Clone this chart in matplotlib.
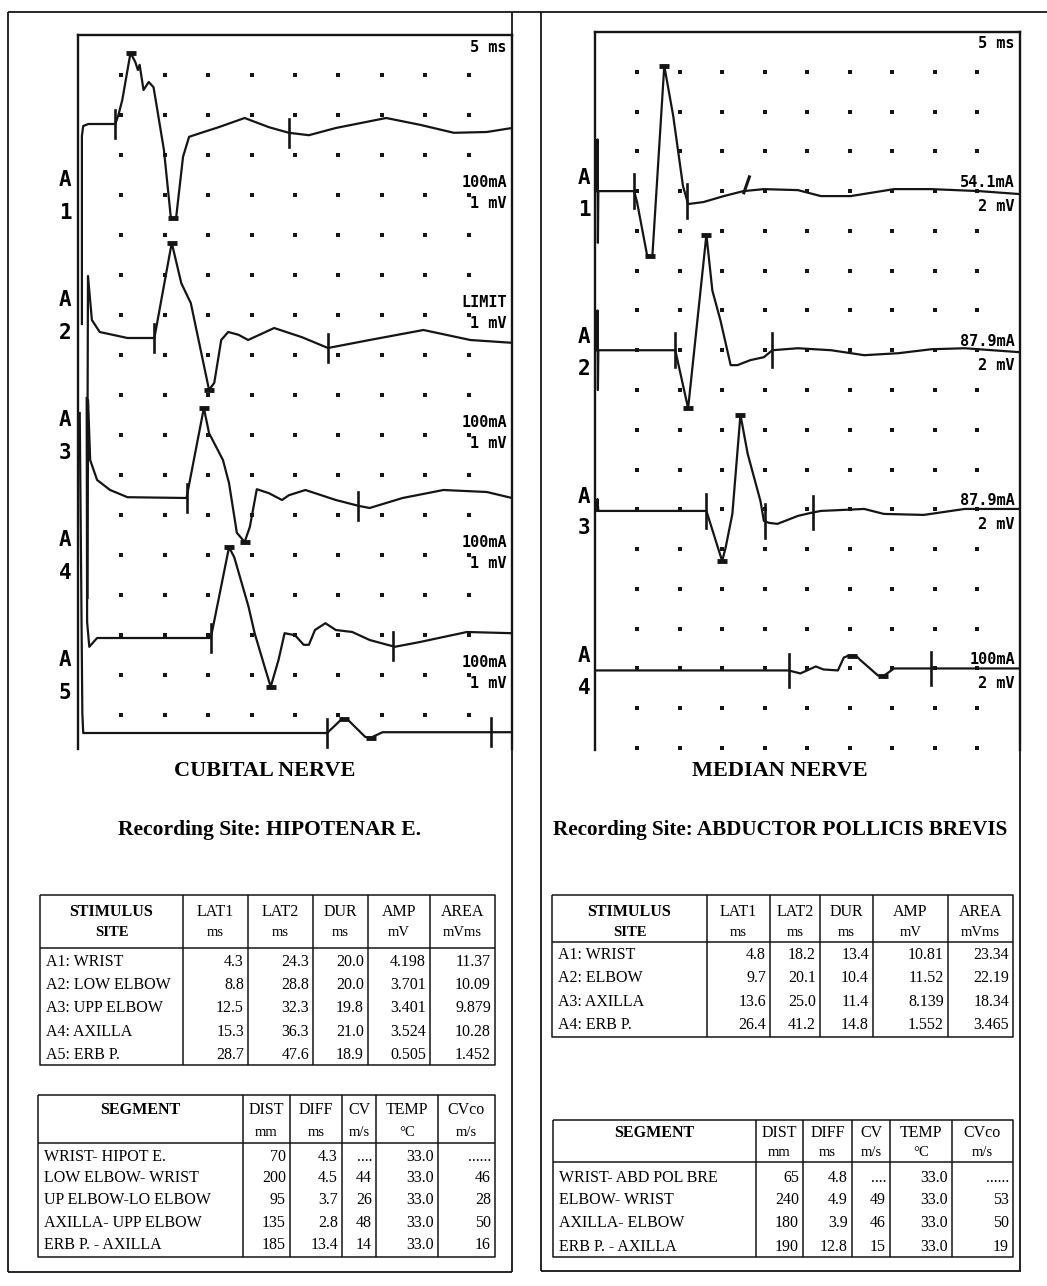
import numpy as np
import matplotlib.pyplot as plt

W, H = 1047, 1286
MONO = "DejaVu Sans Mono"
SERIF = "Liberation Serif"
INK = "#151515"

# ---------------- cubital nerve (5 ms/div, 1 mV/div) ----------------
cub_a1_t = [0.45, 0.45, 0.6, 1.2, 4.3, 4.65, 5.1, 6.05, 6.6, 6.9, 7.1, 7.55, 8.15, 8.7, 8.95,
            9.9, 10.7, 11.3, 12.1, 12.8, 14.2, 16.2, 19.2, 22.0, 24.3, 26.6, 29.7, 35.5,
            39.4, 43.3, 47.1, 50.0]
cub_a1_v = [-5.0, -0.3, -0.05, 0.0, 0.0, 0.22, 0.6, 1.78, 1.55, 1.35, 1.48, 0.85, 1.05, 0.92, 0.6,
            -0.65, -2.35, -2.35, -0.82, -0.32, -0.22, -0.08, 0.15, -0.08, -0.22, -0.28, -0.1, 0.15,
            -0.02, -0.22, -0.2, -0.1]
cub_a2_t = [1.1, 1.15, 1.6, 2.5, 5.7, 8.8, 10.8, 11.9, 13.0, 14.2, 15.1, 15.7, 16.5, 17.3, 18.5,
            19.6, 22.6, 25.8, 28.8, 33.6, 39.8, 45.2, 50.0]
cub_a2_v = [-2.0, 1.55, 0.45, 0.15, 0.0, 0.0, 2.38, 1.37, 0.87, -0.37, -1.3, -1.12, -0.05, 0.15, 0.08,
            -0.05, 0.25, 0.02, -0.25, -0.05, 0.2, -0.05, -0.12]
cub_a3_t = [1.1, 1.16, 1.4, 2.2, 3.7, 5.7, 12.5, 14.5, 15.1, 16.7, 17.4, 18.3, 19.2, 19.8, 20.6,
            22.0, 23.5, 24.3, 26.2, 29.7, 32.4, 33.6, 37.4, 42.1, 47.1, 50.0]
cub_a3_v = [-2.5, 2.45, 0.95, 0.45, 0.2, 0.02, 0.0, 2.25, 1.62, 0.95, 0.37, -0.87, -1.1, -0.72, 0.22,
            0.12, -0.05, 0.07, 0.2, -0.05, -0.2, -0.25, 0.0, 0.2, 0.15, 0.0]
cub_a4_t = [1.0, 1.05, 1.3, 2.2, 15.3, 17.4, 18.0, 19.65, 20.35, 21.5, 22.2, 23.1, 23.8, 25.0, 26.0,
            26.6, 27.3, 28.5, 29.7, 31.6, 33.6, 36.5, 39.4, 44.8, 50.0]
cub_a4_v = [6.0, 0.4, -0.22, 0.0, 0.0, 2.27, 2.02, 0.78, 0.12, -0.72, -1.22, -0.55, 0.12, 0.07, -0.17,
            -0.17, 0.2, 0.37, 0.2, 0.15, -0.05, -0.22, -0.1, 0.15, 0.12]
cub_a5_t = [0.2, 0.5, 0.6, 28.7, 30.4, 31.0, 33.1, 33.7, 35.1, 41.3, 50.0]
cub_a5_v = [8.0, 0.5, 0.0, 0.0, 0.35, 0.35, -0.1, -0.12, 0.02, 0.02, 0.02]

cub_stim = ["100mA", "LIMIT", "100mA", "100mA", "100mA"]
cub_gain = ["1 mV", "1 mV", "1 mV", "1 mV", "1 mV"]

cub_sites = ["A1: WRIST", "A2: LOW ELBOW", "A3: UPP ELBOW", "A4: AXILLA", "A5: ERB P."]
cub_lat1 = [4.3, 8.8, 12.5, 15.3, 28.7]
cub_lat2 = [24.3, 28.8, 32.3, 36.3, 47.6]
cub_dur = [20.0, 20.0, 19.8, 21.0, 18.9]
cub_amp = [4.198, 3.701, 3.401, 3.524, 0.505]
cub_area = [11.37, 10.09, 9.879, 10.28, 1.452]

cub_seg = ["WRIST- HIPOT E.", "LOW ELBOW- WRIST", "UP ELBOW-LO ELBOW", "AXILLA- UPP ELBOW",
           "ERB P. - AXILLA"]
cub_dist = [70, 200, 95, 135, 185]
cub_diff = [4.3, 4.5, 3.7, 2.8, 13.4]
cub_cv = [None, 44, 26, 48, 14]
cub_temp = [33.0, 33.0, 33.0, 33.0, 33.0]
cub_cvco = [None, 46, 28, 50, 16]

# ---------------- median nerve (5 ms/div, 2 mV/div) ----------------
med_a1_t = [0.3, 0.35, 0.4, 0.45, 4.66, 5.0, 6.2, 6.8, 8.2, 9.25, 10.4, 11.0, 12.8, 15.2, 17.5,
            19.9, 23.9, 26.6, 30.1, 35.2, 39.6, 45.2, 50.0]
med_a1_v = [0.0, 2.6, -2.6, 0.0, 0.0, -0.55, -3.27, -3.27, 6.3, 3.78, 0.25, -0.65, -0.55, -0.25, 0.0,
            0.1, 0.05, -0.25, -0.25, 0.1, 0.1, 0.0, -0.15]
med_a2_t = [0.3, 0.35, 0.4, 0.45, 9.5, 9.7, 11.0, 13.15, 13.85, 14.8, 16.0, 16.8, 18.3, 19.9, 20.9,
            23.9, 27.8, 31.7, 35.7, 39.6, 43.5, 50.0]
med_a2_v = [0.0, 2.0, -2.0, 0.0, 0.0, -0.4, -2.92, 5.8, 3.0, 1.5, -0.75, -0.75, -0.5, -0.35, 0.0,
            0.1, 0.0, -0.25, -0.15, 0.05, 0.1, -0.1]
med_a3_t = [0.3, 0.35, 0.45, 13.15, 15.0, 15.4, 16.2, 17.15, 18.0, 19.5, 19.9, 20.5, 21.5, 23.9, 25.4,
            26.6, 31.7, 34.0, 38.7, 43.5, 50.0]
med_a3_v = [0.0, 0.6, 0.0, 0.0, -2.52, -1.86, -0.15, 4.84, 2.87, 0.5, -0.5, -0.6, -0.65, -0.25, -0.1,
            0.0, 0.1, -0.15, -0.2, 0.1, 0.1]
med_a4_t = [0.3, 22.8, 24.2, 26.0, 26.9, 28.6, 29.3, 29.9, 30.7, 31.3, 33.3, 33.9, 35.2, 39.6, 50.0]
med_a4_v = [0.0, 0.0, -0.15, 0.2, 0.05, 0.0, 0.65, 0.75, 0.75, 0.5, -0.25, -0.3, 0.1, 0.1, 0.1]
med_marks = [[4.66, 10.9], [9.5, 20.9], [13.15, 20.0, 25.7], [22.8, 39.6]]
med_slash = 17.9

med_stim = ["54.1mA", "87.9mA", "87.9mA", "100mA"]
med_gain = ["2 mV", "2 mV", "2 mV", "2 mV"]

med_sites = ["A1: WRIST", "A2: ELBOW", "A3: AXILLA", "A4: ERB P."]
med_lat1 = [4.8, 9.7, 13.6, 26.4]
med_lat2 = [18.2, 20.1, 25.0, 41.2]
med_dur = [13.4, 10.4, 11.4, 14.8]
med_amp = [10.81, 11.52, 8.139, 1.552]
med_area = [23.34, 22.19, 18.34, 3.465]

med_seg = ["WRIST- ABD POL BRE", "ELBOW- WRIST", "AXILLA- ELBOW", "ERB P. - AXILLA"]
med_dist = [65, 240, 180, 190]
med_diff = [4.8, 4.9, 3.9, 12.8]
med_cv = [None, 49, 46, 15]
med_temp = [33.0, 33.0, 33.0, 33.0]
med_cvco = [None, 53, 50, 19]

fig = plt.figure(figsize=(W / 100, H / 100), dpi=100)
bg = fig.add_axes([0, 0, 1, 1])
bg.set_xlim(0, W)
bg.set_ylim(H, 0)
bg.axis("off")


def px_axes(x0, y0, x1, y1):
    ax = fig.add_axes([x0 / W, 1 - y1 / H, (x1 - x0) / W, (y1 - y0) / H])
    ax.set_facecolor("none")
    return ax


def line(xs, ys, lw=1.3):
    bg.plot(xs, ys, color=INK, lw=lw, solid_capstyle="butt")


def draw_panel(ax, traces, bases, mv_div, marks, ydiv, stim, gain, lab_rows, name_rows, name_x, tick_len):
    ax.set_xlim(0, 50)
    ax.set_ylim(ydiv, 0)
    ax.set_xticks([])
    ax.set_yticks([])
    ax.spines["bottom"].set_visible(False)
    for s in ("top", "left", "right"):
        ax.spines[s].set_linewidth(1.7)
        ax.spines[s].set_color(INK)
    gx, gy = np.meshgrid(np.arange(5, 50, 5), np.arange(1, int(ydiv) + 1))
    ax.plot(gx.ravel(), gy.ravel(), "s", ms=2.2, mew=0, color=INK, ls="none")
    for (t, v), base, mk in zip(traces, bases, marks):
        t = np.asarray(t, float)
        v = np.asarray(v, float)
        ax.plot(t, base - v / mv_div, color=INK, lw=1.6)
        for tm in mk:
            yc = base - np.interp(tm, t, v) / mv_div
            ax.plot([tm, tm], [yc - tick_len / 2, yc + tick_len / 2], color=INK, lw=1.9)
        after = t >= mk[0]
        for ext in (v[after].max(), v[after].min()):
            sel = after & (v == ext)
            ax.plot(t[sel].mean(), base - ext / mv_div, marker="_", ms=7, mew=3.5, color=INK)
    ax.text(49.4, 0.3, "5 ms", ha="right", va="center", family=MONO, weight="bold", size=11)
    for k, (s, g) in enumerate(zip(stim, gain)):
        ax.text(49.4, lab_rows[k][0], s, ha="right", va="center", family=MONO, weight="bold", size=11)
        ax.text(49.4, lab_rows[k][1], g, ha="right", va="center", family=MONO, weight="bold", size=11)
        ax.text(name_x, name_rows[k][0], "A", ha="center", va="center", family=MONO,
                weight="bold", size=15, clip_on=False)
        ax.text(name_x, name_rows[k][1], str(k + 1), ha="center", va="center", family=MONO,
                weight="bold", size=15, clip_on=False)


def draw_table(xs, y_top, y_sep, y_bot, heads, head_y, rows_y, columns):
    line([xs[0], xs[-1], xs[-1], xs[0], xs[0]], [y_top, y_top, y_bot, y_bot, y_top], lw=1.1)
    line([xs[0], xs[-1]], [y_sep, y_sep], lw=1.1)
    for x in xs[1:-1]:
        line([x, x], [y_top, y_bot], lw=1.1)
    for j, head in enumerate(heads):
        cx = (xs[j] + xs[j + 1]) / 2
        for k, txt in enumerate(head):
            bg.text(cx, head_y[k], txt, ha="center", va="center", family=SERIF,
                    weight="bold" if j == 0 else "normal", size=11.5 if k == 0 else 10.5)
    for j, col in enumerate(columns):
        for yv, s in zip(rows_y, col):
            if j == 0:
                bg.text(xs[0] + 6, yv, s, ha="left", va="center", family=SERIF, size=11.5)
            else:
                bg.text(xs[j + 1] - 4, yv, s, ha="right", va="center", family=SERIF, size=11.5)


# panel frames
line([8, W], [12, 12])
line([8, 8], [12, 1272])
line([8, 512], [1272, 1272])
line([512, 512], [12, 1272])
line([541, 541], [12, 1271])
line([541, 1021], [1271, 1271])
line([1020, 1020], [749, 1271])

# left: cubital nerve
axl = px_axes(78, 35, 512, 749)
draw_panel(axl,
           [(cub_a1_t, cub_a1_v), (cub_a2_t, cub_a2_v), (cub_a3_t, cub_a3_v),
            (cub_a4_t, cub_a4_v), (cub_a5_t, cub_a5_v)],
           [2.225, 7.575, 11.575, 15.075, 17.45], 1.0,
           [[a, b] for a, b in zip(cub_lat1, cub_lat2)], 17.85,
           cub_stim, cub_gain,
           [(3.68 + 3 * k, 4.22 + 3 * k) for k in range(5)],
           [(3.62 + 3 * k, 4.45 + 3 * k) for k in range(5)], -1.5, 0.7)

# right: median nerve
axr = px_axes(594.5, 32, 1020, 750)
draw_panel(axr,
           [(med_a1_t, med_a1_v), (med_a2_t, med_a2_v), (med_a3_t, med_a3_v), (med_a4_t, med_a4_v)],
           [4.0, 8.0, 12.04, 16.05], 2.0, med_marks, 18.05,
           med_stim, med_gain,
           [(3.78 + 4 * k, 4.38 + 4 * k) for k in range(4)],
           [(3.68 + 4 * k, 4.48 + 4 * k) for k in range(4)], -1.2, 0.85)
ys = 4.0 - np.interp(med_slash, med_a1_t, med_a1_v) / 2.0
axr.plot([med_slash - 0.35, med_slash + 0.3], [ys + 0.05, ys - 0.35], color=INK, lw=2.2)

# titles
bg.text(265, 771, "CUBITAL NERVE", ha="center", va="center", family=SERIF, weight="bold", size=16)
bg.text(270, 830, "Recording Site: HIPOTENAR E.", ha="center", va="center", family=SERIF,
        weight="bold", size=15.5)
bg.text(780, 771, "MEDIAN NERVE", ha="center", va="center", family=SERIF, weight="bold", size=16)
bg.text(780, 830, "Recording Site: ABDUCTOR POLLICIS BREVIS", ha="center", va="center",
        family=SERIF, weight="bold", size=15.2)

stim_heads = [["STIMULUS", "SITE"], ["LAT1", "ms"], ["LAT2", "ms"], ["DUR", "ms"], ["AMP", "mV"],
              ["AREA", "mVms"]]
seg_heads = [["SEGMENT"], ["DIST", "mm"], ["DIFF", "ms"], ["CV", "m/s"], ["TEMP", "\u00b0C"],
             ["CVco", "m/s"]]


def stim_cols(sites, lat1, lat2, dur, amp, area):
    return [sites, [f"{x:.1f}" for x in lat1], [f"{x:.1f}" for x in lat2],
            [f"{x:.1f}" for x in dur], [f"{x:.4g}" for x in amp], [f"{x:.4g}" for x in area]]


def seg_cols(seg, dist, diff, cv, temp, cvco):
    return [seg, [str(x) for x in dist], [f"{x:.1f}" for x in diff],
            ["...." if x is None else str(x) for x in cv], [f"{x:.1f}" for x in temp],
            ["......" if x is None else str(x) for x in cvco]]


draw_table([40, 183, 248, 313, 368, 430, 495], 895, 948, 1065, stim_heads, [912, 932],
           [962, 985, 1008, 1032, 1055],
           stim_cols(cub_sites, cub_lat1, cub_lat2, cub_dur, cub_amp, cub_area))
draw_table([38, 243, 290, 342, 376, 438, 495], 1095, 1143, 1257, seg_heads, [1110, 1132],
           [1157, 1178, 1200, 1223, 1245],
           seg_cols(cub_seg, cub_dist, cub_diff, cub_cv, cub_temp, cub_cvco))
draw_table([552, 707, 770, 820, 873, 948, 1013], 895, 942, 1037, stim_heads, [912, 932],
           [955, 978, 1002, 1025],
           stim_cols(med_sites, med_lat1, med_lat2, med_dur, med_amp, med_area))
draw_table([553, 756, 803, 852, 890, 952, 1013], 1120, 1162, 1257, seg_heads, [1133, 1153],
           [1178, 1200, 1223, 1247],
           seg_cols(med_seg, med_dist, med_diff, med_cv, med_temp, med_cvco))

fig.savefig("out.png", dpi=100)
